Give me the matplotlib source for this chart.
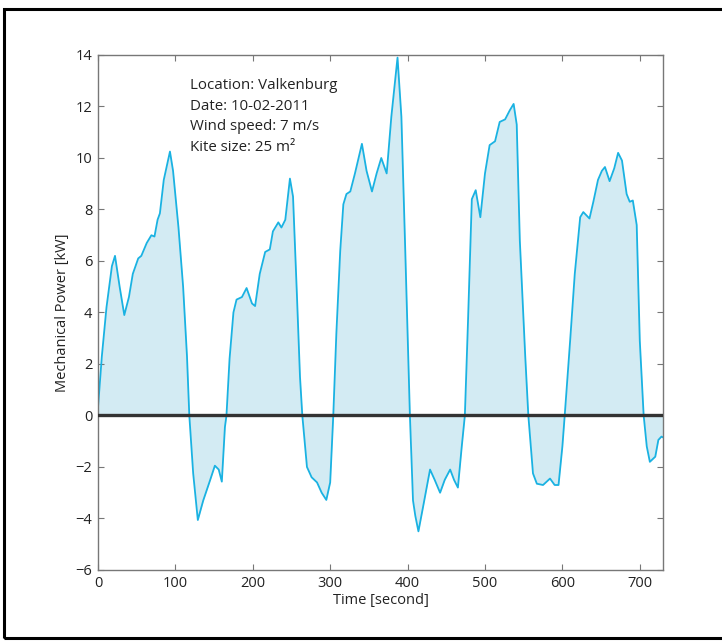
import matplotlib
matplotlib.use("Agg")
import matplotlib.pyplot as plt
from matplotlib.patches import Rectangle

# Time [s] and mechanical power [kW]
time_s = [0, 5, 11, 18, 22, 28, 34, 40, 45, 52, 56, 63, 69, 73, 77, 80, 85, 89, 93, 97,
          104, 110, 115, 118, 123, 129, 136, 145, 151, 156, 160, 164, 166, 170, 175, 179,
          186, 192, 199, 203, 209, 216, 222, 226, 233, 237, 242, 248, 252, 257, 261, 264,
          270, 276, 283, 289, 295, 300, 304, 308, 313, 317, 321, 326, 332, 341, 347, 354,
          360, 366, 373, 379, 387, 392, 397, 403, 407, 410, 414, 420, 429, 435, 442, 448,
          455, 460, 465, 470, 474, 478, 483, 488, 494, 500, 506, 513, 519, 526, 532, 537,
          541, 545, 552, 556, 562, 567, 575, 584, 590, 595, 600, 603, 610, 616, 623, 627,
          635, 640, 646, 651, 655, 661, 667, 672, 677, 683, 687, 691, 696, 700, 705, 709,
          713, 720, 724, 728, 730]
power_kw = [0.3, 2.3, 4.2, 5.8, 6.2, 5.0, 3.9, 4.6, 5.5, 6.1, 6.2, 6.7, 7.0, 6.95, 7.6, 7.85,
            9.15, 9.7, 10.25, 9.5, 7.3, 5.0, 2.3, 0.0, -2.25, -4.06, -3.3, -2.5, -1.95, -2.1,
            -2.57, -0.45, 0.0, 2.2, 4.0, 4.5, 4.6, 4.95, 4.35, 4.25, 5.5, 6.35, 6.45, 7.15,
            7.5, 7.3, 7.6, 9.2, 8.5, 4.7, 1.5, 0.0, -2.0, -2.4, -2.6, -3.0, -3.28, -2.6, 0.0,
            3.2, 6.4, 8.2, 8.6, 8.7, 9.4, 10.55, 9.5, 8.7, 9.4, 10.0, 9.4, 11.6, 13.9, 11.6,
            6.4, 0.0, -3.3, -3.9, -4.5, -3.55, -2.1, -2.5, -3.0, -2.5, -2.1, -2.5, -2.8, -1.2,
            0.0, 3.6, 8.4, 8.75, 7.7, 9.4, 10.5, 10.65, 11.4, 11.5, 11.85, 12.1, 11.3, 6.8,
            2.3, 0.0, -2.25, -2.65, -2.7, -2.45, -2.7, -2.7, -1.2, 0.0, 2.9, 5.5, 7.7, 7.9,
            7.65, 8.3, 9.15, 9.5, 9.65, 9.1, 9.6, 10.2, 9.9, 8.6, 8.3, 8.35, 7.4, 2.9, 0.0,
            -1.2, -1.8, -1.6, -0.95, -0.82, -0.85]

annotation_lines = ["Location: Valkenburg", "Date: 10-02-2011", "Wind speed: 7 m/s",
                    "Kite size: 25 m\u00b2"]
x_ticks = [0, 100, 200, 300, 400, 500, 600, 700]
y_ticks = [-6, -4, -2, 0, 2, 4, 6, 8, 10, 12, 14]

plt.rcParams['font.family'] = ['Open Sans', 'DejaVu Sans']

fig = plt.figure(figsize=(7.22, 6.41), dpi=100)
ax = fig.add_axes([0.1357, 0.1108, 0.7826, 0.8034])

line_color = '#1ab2e2'
fill_color = '#d3ebf3'
ax.fill_between(time_s, power_kw, 0, color=fill_color, linewidth=0)
ax.plot(time_s, power_kw, color=line_color, linewidth=1.3)
ax.axhline(0, color='#333333', linewidth=2.4, zorder=3)

ax.set_xlim(0, 730)
ax.set_ylim(-6, 14)
ax.set_xticks(x_ticks)
ax.set_yticks(y_ticks)
ax.set_yticklabels([str(v).replace('-', '\u2212') for v in y_ticks])
ax.tick_params(direction='in', top=True, right=True, length=4, width=0.8,
               color='#777777', labelsize=10.5, labelcolor='#222222', pad=4)
for sp in ax.spines.values():
    sp.set_color('#777777')
    sp.set_linewidth(1.0)

ax.set_xlabel('Time [second]', fontsize=10.5, color='#222222', labelpad=2)
ax.set_ylabel('Mechanical Power [kW]', fontsize=10.5, color='#222222', labelpad=4)

ax.text(0.163, 0.955, "\n".join(annotation_lines), transform=ax.transAxes,
        ha='left', va='top', fontsize=10.8, color='#222222', linespacing=1.5)

# figure border (right edge cut off in the reference)
fig.patches.append(Rectangle((0.006, 0.004), 1.1, 0.982, transform=fig.transFigure,
                             fill=False, edgecolor='black', linewidth=2.2))

fig.savefig('out.png', dpi=100)
